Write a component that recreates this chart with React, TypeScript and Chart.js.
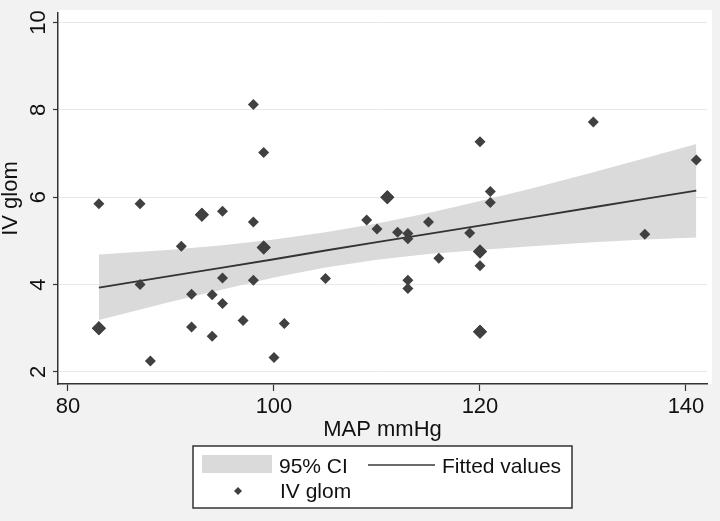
import React, { useEffect, useRef } from "react";
import { Chart, registerables } from "chart.js";

Chart.register(...registerables);

// Scatter data: MAP (mmHg) vs IV glom
const mapValues = [
  83, 83, 83, 87, 87, 88, 91, 92, 92, 93, 93, 94, 94, 95, 95, 95, 97, 98, 98, 98,
  99, 99, 99, 100, 101, 105, 109, 110, 111, 111, 112, 113, 113, 113, 113, 115, 116,
  119, 120, 120, 120, 120, 120, 120, 121, 121, 131, 136, 141,
];
const glomValues = [
  5.85, 3.0, 3.0, 4.0, 5.85, 2.25, 4.88, 3.78, 3.03, 5.6, 5.6, 3.77, 2.82, 5.68, 4.15, 3.57, 3.18, 8.12, 5.43, 4.1,
  7.02, 4.85, 4.85, 2.33, 3.11, 4.14, 5.48, 5.27, 6.0, 6.0, 5.2, 5.17, 5.05, 4.1, 3.91, 5.43, 4.6,
  5.18, 7.27, 4.76, 4.76, 4.43, 2.92, 2.92, 6.13, 5.88, 7.72, 5.15, 6.85,
];

// Fitted values and 95% CI
const fitX = [83, 90, 95, 100, 105, 110, 115, 120, 125, 131, 136, 141];
const fitY = [3.93, 4.2, 4.39, 4.58, 4.78, 4.97, 5.16, 5.35, 5.54, 5.77, 5.96, 6.15];
const ciUpper = [4.69, 4.8, 4.9, 5.03, 5.2, 5.4, 5.64, 5.91, 6.2, 6.57, 6.89, 7.22];
const ciLower = [3.19, 3.61, 3.89, 4.16, 4.39, 4.57, 4.7, 4.79, 4.88, 4.97, 5.03, 5.08];

// Axis ticks
const xTicks = [80, 100, 120, 140];
const yTicks = [2, 4, 6, 8, 10];

const xTitle = "MAP mmHg";
const yTitle = "IV glom";
const legendCI = "95% CI";
const legendFit = "Fitted values";
const legendPts = "IV glom";

const FONT = "'Liberation Sans', Arial, Helvetica, sans-serif";
const BAND = "#dadada";
const MARK = "#404040";
const INK = "#111111";

const scatterPoints = mapValues.map((x, i) => ({ x, y: glomValues[i] }));
const fitPoints = fitX.map((x, i) => ({ x, y: fitY[i] }));
const upperPoints = fitX.map((x, i) => ({ x, y: ciUpper[i] }));
const lowerPoints = fitX.map((x, i) => ({ x, y: ciLower[i] }));

const dupCount = (i: number) =>
  scatterPoints.filter((p) => p.x === scatterPoints[i].x && p.y === scatterPoints[i].y).length;

function diamond(ctx: CanvasRenderingContext2D, x: number, y: number, r: number) {
  ctx.beginPath();
  ctx.moveTo(x, y - r);
  ctx.lineTo(x + r, y);
  ctx.lineTo(x, y + r);
  ctx.lineTo(x - r, y);
  ctx.closePath();
  ctx.fill();
}

const stataPlugin = {
  id: "stata",
  beforeDraw(chart: any) {
    const ctx = chart.ctx as CanvasRenderingContext2D;
    const a = chart.chartArea;
    ctx.save();
    ctx.fillStyle = "#f2f2f2";
    ctx.fillRect(0, 0, chart.width, chart.height);
    ctx.fillStyle = "#ffffff";
    ctx.fillRect(a.left, a.top - 3, a.right - a.left + 5, a.bottom - a.top + 3);
    ctx.restore();
  },
  afterDraw(chart: any) {
    const ctx = chart.ctx as CanvasRenderingContext2D;
    const ys = chart.scales.y;
    ctx.save();
    // rotated y tick labels
    ctx.fillStyle = INK;
    ctx.font = `22px ${FONT}`;
    ctx.textAlign = "center";
    ctx.textBaseline = "alphabetic";
    yTicks.forEach((v) => {
      const py = ys.getPixelForValue(v);
      ctx.save();
      ctx.translate(45, py);
      ctx.rotate(-Math.PI / 2);
      ctx.fillText(String(v), 0, 0);
      ctx.restore();
    });

    // legend
    const lx = 193, ly = 446, lw = 379, lh = 62;
    ctx.fillStyle = "#ffffff";
    ctx.fillRect(lx, ly, lw, lh);
    ctx.strokeStyle = "#333333";
    ctx.lineWidth = 1.5;
    ctx.strokeRect(lx, ly, lw, lh);

    ctx.fillStyle = BAND;
    ctx.fillRect(202, 455, 70, 18);

    ctx.strokeStyle = "#3a3a3a";
    ctx.lineWidth = 1.5;
    ctx.beginPath();
    ctx.moveTo(368, 465);
    ctx.lineTo(435, 465);
    ctx.stroke();

    ctx.fillStyle = MARK;
    diamond(ctx, 238, 491, 4);

    ctx.fillStyle = INK;
    ctx.font = `21px ${FONT}`;
    ctx.textAlign = "left";
    ctx.fillText(legendCI, 279, 473);
    ctx.fillText(legendFit, 442, 473);
    ctx.fillText(legendPts, 280, 498);
    ctx.restore();
  },
};

export default function App() {
  const ref = useRef<HTMLCanvasElement | null>(null);

  useEffect(() => {
    if (!ref.current) return;
    const chart = new Chart(ref.current, {
      type: "scatter",
      data: {
        datasets: [
          {
            type: "scatter",
            label: legendPts,
            data: scatterPoints,
            pointStyle: "rectRot",
            pointRadius: (c: any) => (dupCount(c.dataIndex) > 1 ? 7 : 5.5),
            backgroundColor: MARK,
            borderWidth: 0,
          } as any,
          {
            type: "line",
            label: legendFit,
            data: fitPoints,
            borderColor: "#333333",
            borderWidth: 1.8,
            pointRadius: 0,
            fill: false,
            tension: 0,
          },
          {
            type: "line",
            label: legendCI,
            data: upperPoints,
            borderWidth: 0,
            borderColor: "rgba(0,0,0,0)",
            backgroundColor: BAND,
            pointRadius: 0,
            fill: "+1",
            tension: 0,
          },
          {
            type: "line",
            label: "lower",
            data: lowerPoints,
            borderWidth: 0,
            borderColor: "rgba(0,0,0,0)",
            pointRadius: 0,
            fill: false,
            tension: 0,
          },
        ],
      },
      options: {
        responsive: false,
        animation: false,
        events: [],
        layout: { padding: { left: 0, top: 13, right: 13, bottom: 80 } },
        plugins: {
          legend: { display: false },
          tooltip: { enabled: false },
        },
        scales: {
          x: {
            type: "linear",
            min: 79.03,
            max: 142.04,
            afterBuildTicks: (s: any) => {
              s.ticks = xTicks.map((v) => ({ value: v }));
            },
            afterFit: (s: any) => {
              s.height = 57;
            },
            border: { display: true, color: "#333333", width: 1.5 },
            grid: {
              drawOnChartArea: false,
              drawTicks: true,
              tickLength: 7,
              tickColor: "#333333",
              tickWidth: 1.2,
            },
            ticks: {
              color: INK,
              font: { family: FONT, size: 22 },
              padding: 3,
              maxRotation: 0,
              minRotation: 0,
              callback: (v: any) => String(v),
            },
            title: {
              display: true,
              text: xTitle,
              color: INK,
              font: { family: FONT, size: 22, lineHeight: 1 },
              padding: 0,
            },
          },
          y: {
            type: "linear",
            min: 1.725,
            max: 10.215,
            afterBuildTicks: (s: any) => {
              s.ticks = yTicks.map((v) => ({ value: v }));
            },
            afterFit: (s: any) => {
              s.width = 58;
            },
            border: { display: true, color: "#333333", width: 1.5 },
            grid: {
              drawOnChartArea: true,
              color: "#e8e8e8",
              lineWidth: 1,
              drawTicks: true,
              tickLength: 5,
              tickColor: "#333333",
              tickWidth: 1.2,
            },
            ticks: { display: false },
            title: {
              display: true,
              text: yTitle,
              color: INK,
              font: { family: FONT, size: 22, lineHeight: 1 },
              padding: 0,
            },
          },
        },
      },
      plugins: [stataPlugin],
    });
    return () => chart.destroy();
  }, []);

  return (
    <div style={{ position: "fixed", left: 0, top: 0, width: 720, height: 521 }}>
      <canvas ref={ref} width={720} height={521} style={{ display: "block" }} />
    </div>
  );
}
